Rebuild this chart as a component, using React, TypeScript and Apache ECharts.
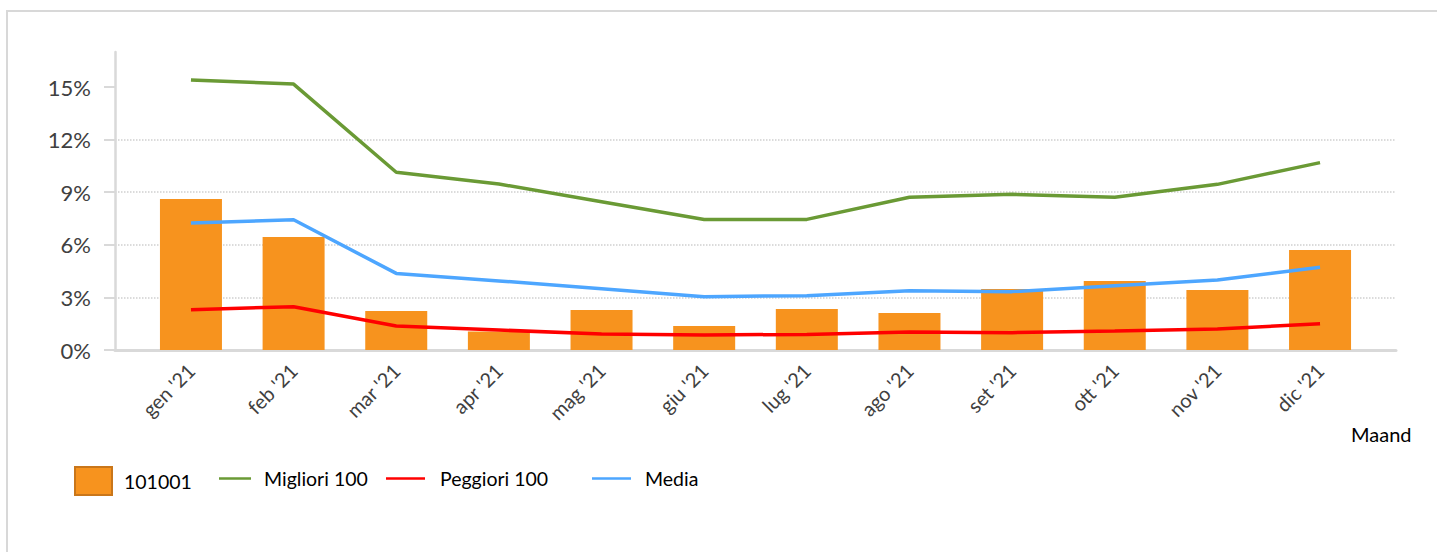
import React, { useEffect, useRef } from "react";
import * as echarts from "echarts";

const months = ["gen '21", "feb '21", "mar '21", "apr '21", "mag '21", "giu '21", "lug '21", "ago '21", "set '21", "ott '21", "nov '21", "dic '21"];
const bar101001 = [8.61, 6.45, 2.22, 1.05, 2.28, 1.37, 2.34, 2.11, 3.48, 3.94, 3.42, 5.7];
const migliori100 = [15.4, 15.17, 10.14, 9.47, 8.46, 7.45, 7.45, 8.71, 8.88, 8.71, 9.45, 10.69];
const peggiori100 = [2.3, 2.47, 1.37, 1.14, 0.91, 0.86, 0.89, 1.03, 0.99, 1.08, 1.2, 1.5];
const media = [7.24, 7.43, 4.37, 3.94, 3.5, 3.04, 3.1, 3.38, 3.33, 3.67, 3.99, 4.72];
const yTickValues = [0, 3, 6, 9, 12, 15];
const xTickValues = months.map((_, i) => i);

const FONT = "Lato, 'Open Sans', sans-serif";
const C_BAR = "#F7931E";
const C_GREEN = "#6A9A35";
const C_RED = "#FF0000";
const C_BLUE = "#4DA6FF";
const C_AXIS = "#D9D9D9";

const pairs = (arr: number[]) => arr.map((v, i) => [i, v]);

export default function App() {
  const ref = useRef<HTMLDivElement>(null);
  useEffect(() => {
    if (!ref.current) return;
    const chart = echarts.init(ref.current, null, { renderer: "svg" });
    const legendText = { fontFamily: FONT, fontSize: 19.5, color: "#000" };
    chart.setOption({
      animation: false,
      textStyle: { fontFamily: FONT },
      title: {
        text: "Maand",
        left: 1351,
        top: 424,
        padding: 0,
        textStyle: { fontFamily: FONT, fontSize: 20, fontWeight: "normal", color: "#000" },
      },
      grid: { left: 115, right: 41, top: 52, bottom: 202, containLabel: false },
      legend: [
        {
          data: ["101001"],
          left: 74,
          top: 466,
          padding: 0,
          icon: "rect",
          itemWidth: 37,
          itemHeight: 28,
          itemStyle: { borderColor: "#C9761A", borderWidth: 2 },
          textStyle: { ...legendText, padding: [0, 0, 0, 7] },
        },
        {
          data: ["Migliori 100"],
          left: 219,
          top: 466.5,
          padding: 0,
          icon: "rect",
          itemWidth: 32,
          itemHeight: 2.5,
          textStyle: { ...legendText, lineHeight: 24, padding: [0, 0, 0, 8] },
        },
        {
          data: ["Peggiori 100"],
          left: 386,
          top: 466.5,
          padding: 0,
          icon: "rect",
          itemWidth: 39,
          itemHeight: 2.5,
          textStyle: { ...legendText, lineHeight: 24, padding: [0, 0, 0, 10] },
        },
        {
          data: ["Media"],
          left: 592,
          top: 466.5,
          padding: 0,
          icon: "rect",
          itemWidth: 39,
          itemHeight: 2.5,
          textStyle: { ...legendText, lineHeight: 24, padding: [0, 0, 0, 9] },
        },
      ],
      xAxis: {
        type: "value",
        min: -0.74,
        max: 11.74,
        axisLine: { show: true, onZero: false, lineStyle: { color: C_AXIS, width: 3 } },
        axisTick: { show: false },
        splitLine: { show: false },
        axisLabel: {
          customValues: xTickValues,
          rotate: 45,
          margin: 17,
          fontFamily: FONT,
          fontSize: 20,
          color: "#404040",
          formatter: (v: number) => months[Math.round(v)] ?? "",
        },
      },
      yAxis: {
        type: "value",
        min: 0,
        max: 17,
        interval: 3,
        axisLine: { show: true, onZero: false, lineStyle: { color: C_AXIS, width: 2.5 } },
        axisTick: {
          show: true,
          inside: false,
          length: 11,
          customValues: yTickValues,
          lineStyle: { color: C_AXIS, width: 2 },
        },
        splitLine: {
          show: true,
          showMaxLine: false,
          lineStyle: { color: "#D0D0D0", type: "dotted", width: 1.5 },
        },
        axisLabel: {
          customValues: yTickValues,
          margin: 24,
          fontFamily: FONT,
          fontSize: 22,
          color: "#404040",
          formatter: "{value}%",
        },
      },
      series: [
        {
          name: "101001",
          type: "bar",
          data: pairs(bar101001),
          barWidth: 62,
          itemStyle: { color: C_BAR },
          z: 1,
        },
        {
          name: "Migliori 100",
          type: "line",
          data: pairs(migliori100),
          symbol: "none",
          lineStyle: { color: C_GREEN, width: 3.5 },
          itemStyle: { color: C_GREEN },
          z: 3,
        },
        {
          name: "Peggiori 100",
          type: "line",
          data: pairs(peggiori100),
          symbol: "none",
          lineStyle: { color: C_RED, width: 3.5 },
          itemStyle: { color: C_RED },
          z: 3,
        },
        {
          name: "Media",
          type: "line",
          data: pairs(media),
          symbol: "none",
          lineStyle: { color: C_BLUE, width: 3.5 },
          itemStyle: { color: C_BLUE },
          z: 3,
        },
      ],
    });
    return () => chart.dispose();
  }, []);

  return (
    <div style={{ position: "fixed", left: 0, top: 0, width: 1437, height: 552, overflow: "hidden", background: "#fff" }}>
      <div
        style={{
          position: "absolute",
          left: 6,
          top: 10,
          width: 1600,
          height: 800,
          borderLeft: "2px solid #D8D8D8",
          borderTop: "2px solid #D8D8D8",
          boxSizing: "border-box",
        }}
      />
      <div ref={ref} style={{ position: "absolute", left: 0, top: 0, width: 1437, height: 552 }} />
    </div>
  );
}
